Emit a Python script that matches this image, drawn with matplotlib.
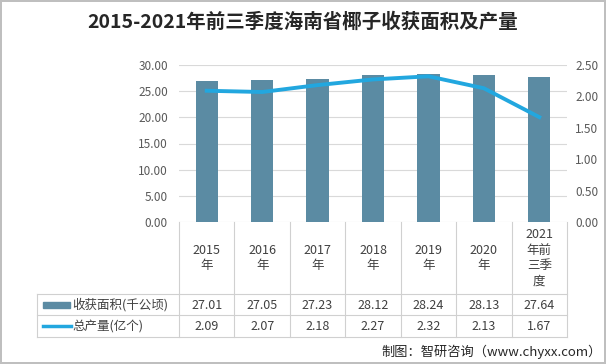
import matplotlib.pyplot as plt
from matplotlib.patches import Rectangle
from matplotlib.lines import Line2D

plt.rcParams['font.family'] = ['Noto Sans CJK SC', 'DejaVu Sans']

years = ['2015\n年', '2016\n年', '2017\n年', '2018\n年', '2019\n年', '2020\n年', '2021\n年前\n三季\n度']
area = [27.01, 27.05, 27.23, 28.12, 28.24, 28.13, 27.64]
output = [2.09, 2.07, 2.18, 2.27, 2.32, 2.13, 1.67]
row_labels = ['收获面积(千公顷)', '总产量(亿个)']

bar_color = '#5b8ba3'
line_color = '#22a7df'
text_color = '#404040'
grid_color = '#d9d9d9'

W, H = 606, 364
fig = plt.figure(figsize=(W / 100, H / 100), dpi=100)
fig.patch.set_edgecolor('#bfbfbf')
fig.patch.set_linewidth(1.5)

# plot area in pixels
px_l, px_r, px_t, px_b = 179, 567, 65, 222
ax = fig.add_axes([px_l / W, 1 - px_b / H, (px_r - px_l) / W, (px_b - px_t) / H])
x = list(range(len(area)))
ax.bar(x, area, width=0.4, color=bar_color, zorder=2)
ax.set_xlim(-0.5, len(area) - 0.5)
ax.set_ylim(0, 30)
ax.set_yticks([0, 5, 10, 15, 20, 25, 30])
ax.set_yticklabels([f'{v:.2f}' for v in [0, 5, 10, 15, 20, 25, 30]])
ax.grid(axis='y', color=grid_color, lw=0.8, zorder=0)
ax.set_xticks([])
for s in ax.spines.values():
    s.set_visible(False)
ax.tick_params(axis='y', length=0, labelsize=8.5, labelcolor='#595959', pad=8)

ax2 = ax.twinx()
ax2.plot(x, output, color=line_color, lw=2.8, zorder=3)
ax2.set_ylim(0, 2.5)
ax2.set_yticks([0, 0.5, 1, 1.5, 2, 2.5])
ax2.set_yticklabels([f'{v:.2f}' for v in [0, 0.5, 1, 1.5, 2, 2.5]])
for s in ax2.spines.values():
    s.set_visible(False)
ax2.tick_params(axis='y', length=0, labelsize=8.5, labelcolor='#595959', pad=6)

# data table underneath, drawn in pixel coordinates
tab_l, tab_r, tab_t, row1, row2, tab_b = 37, 567, 222, 294, 315, 337
tax = fig.add_axes([0, 0, 1, 1], facecolor='none')
tax.set_xlim(0, W)
tax.set_ylim(H, 0)
tax.axis('off')
col_w = (px_r - px_l) / len(area)
lc = '#d0d0d0'
for i in range(len(area) + 1):
    xx = px_l + i * col_w
    tax.add_line(Line2D([xx, xx], [tab_t, tab_b], color=lc, lw=0.8))
for yy in (row1, row2, tab_b):
    tax.add_line(Line2D([tab_l, tab_r], [yy, yy], color=lc, lw=0.8))
tax.add_line(Line2D([tab_l, tab_l], [row1, tab_b], color=lc, lw=0.8))

for i in range(len(area)):
    cx = px_l + (i + 0.5) * col_w
    tax.text(cx, (tab_t + row1) / 2, years[i], ha='center', va='center',
             fontsize=9, color=text_color, linespacing=1.25)
    tax.text(cx, (row1 + row2) / 2 + 1, f'{area[i]:.2f}', ha='center', va='center',
             fontsize=9, color=text_color)
    tax.text(cx, (row2 + tab_b) / 2 + 1, f'{output[i]:.2f}', ha='center', va='center',
             fontsize=9, color=text_color)

tax.add_patch(Rectangle((43, (row1 + row2) / 2 - 3), 27, 6, color=bar_color))
tax.add_line(Line2D([43, 71], [(row2 + tab_b) / 2, (row2 + tab_b) / 2], color=line_color, lw=2.5))
tax.text(72, (row1 + row2) / 2, row_labels[0], ha='left', va='center', fontsize=9, color=text_color)
tax.text(72, (row2 + tab_b) / 2, row_labels[1], ha='left', va='center', fontsize=9, color=text_color)

fig.text(0.5, 1 - 22 / H, '2015-2021年前三季度海南省椰子收获面积及产量', ha='center', va='center',
         fontsize=14, fontweight='bold', color='#262626')
fig.text(1 - 4 / W, 1 - 352 / H, '制图：智研咨询（www.chyxx.com）', ha='right', va='center',
         fontsize=9.5, color='#262626')

fig.savefig('out.png', dpi=100)
